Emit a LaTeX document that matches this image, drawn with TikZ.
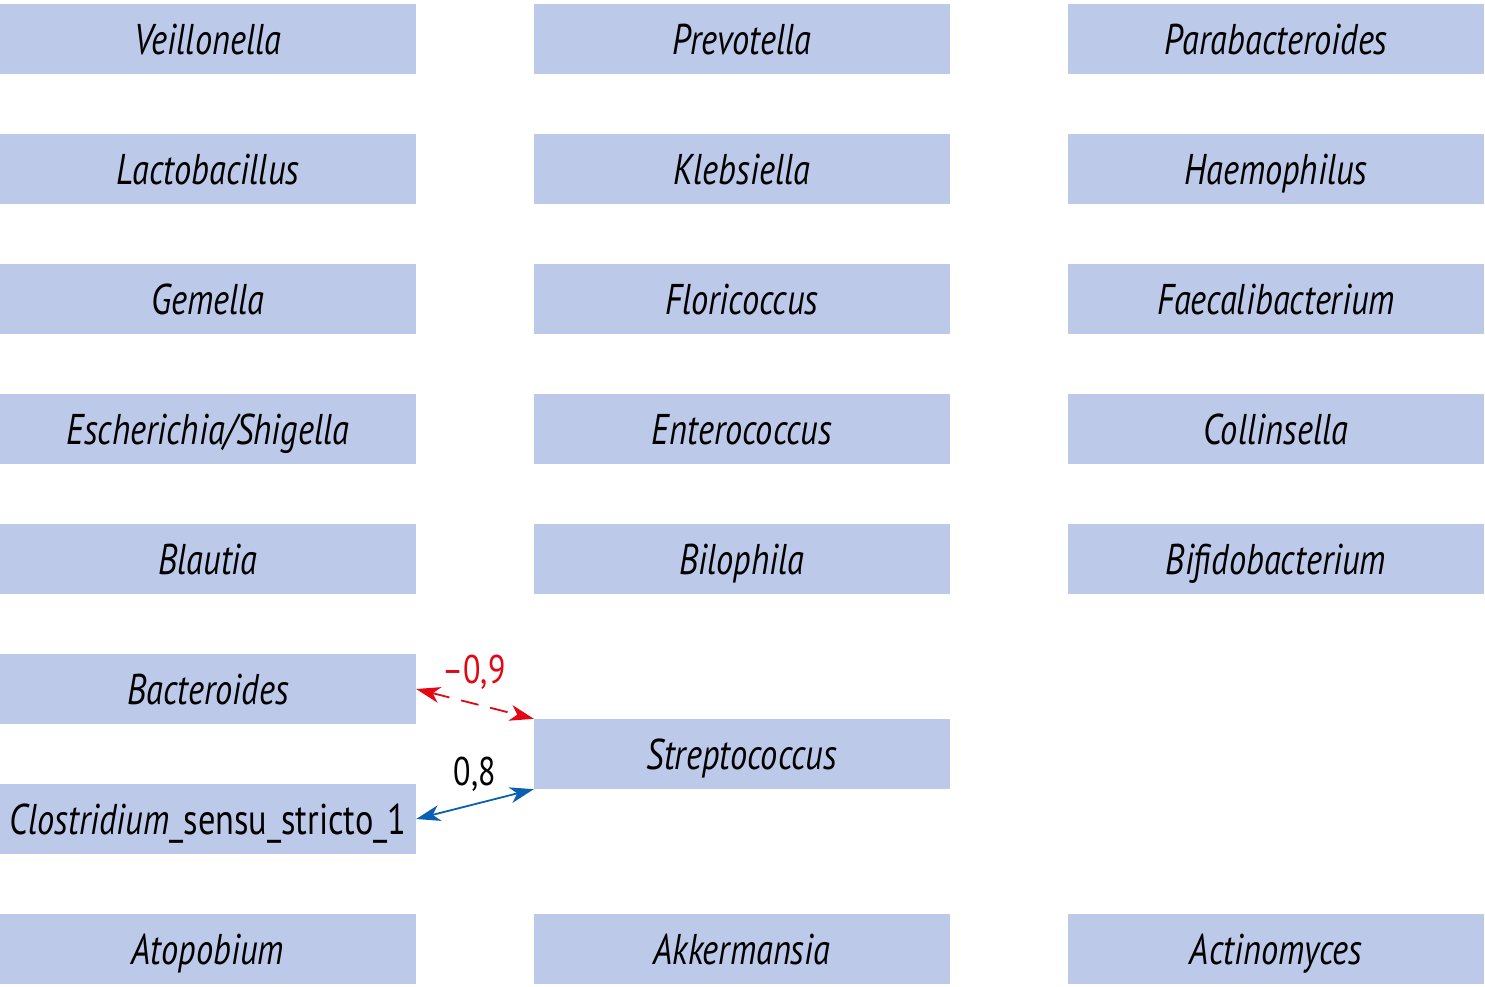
\documentclass[tikz,border=0pt]{standalone}
\usepackage{fontspec}
\setmainfont{PT Sans}[FakeStretch=0.8]
\usetikzlibrary{arrows.meta}
\definecolor{boxfill}{HTML}{BCC9E9}
\definecolor{negred}{HTML}{E30613}
\definecolor{posblue}{HTML}{0B5FB0}
\begin{document}
\begin{tikzpicture}[x=1pt,y=-1pt,
  genus/.style={fill=boxfill, draw=none, minimum width=416pt, minimum height=70pt, inner sep=0pt, text height=32pt, text depth=2pt, font=\fontsize{43}{46}\selectfont\itshape},
  lbl/.style={font=\fontsize{40}{44}\selectfont},
  corr/.style={line width=1.8pt, {Stealth[length=24pt,width=16pt,inset=7pt]}-{Stealth[length=24pt,width=16pt,inset=7pt]}}]
\useasboundingbox (0,0) rectangle (1485,986);
\node[genus] (veil) at (208,39) {Veillonella};
\node[genus] (prev) at (742,39) {Prevotella};
\node[genus] (para) at (1276,39) {Parabacteroides};
\node[genus] (lact) at (208,169) {Lactobacillus};
\node[genus] (kleb) at (742,169) {Klebsiella};
\node[genus] (haem) at (1276,169) {Haemophilus};
\node[genus] (geme) at (208,299) {Gemella};
\node[genus] (flor) at (742,299) {Floricoccus};
\node[genus] (faec) at (1276,299) {Faecalibacterium};
\node[genus] (esch) at (208,429) {Escherichia/Shigella};
\node[genus] (ente) at (742,429) {Enterococcus};
\node[genus] (coll) at (1276,429) {Collinsella};
\node[genus] (blau) at (208,559) {Blautia};
\node[genus] (bilo) at (742,559) {Bilophila};
\node[genus] (bifi) at (1276,559) {Bifidobacterium};
\node[genus] (bact) at (208,689) {Bacteroides};
\node[genus] (stre) at (742,754) {Streptococcus};
\node[genus] (clos) at (208,819) {Clostridium\upshape\_sensu\_stricto\_1};
\node[genus] (atop) at (208,949) {Atopobium};
\node[genus] (akke) at (742,949) {Akkermansia};
\node[genus] (acti) at (1276,949) {Actinomyces};
\draw[corr, negred, dash pattern=on 18pt off 12pt] (bact.east) -- (stre.north west);
\draw[corr, posblue] (clos.east) -- (stre.south west);
\node[lbl, text=negred] (lneg) at (474,672) {\textendash0,9};
\node[lbl] (lpos) at (475,774) {0,8};
\end{tikzpicture}
\end{document}
